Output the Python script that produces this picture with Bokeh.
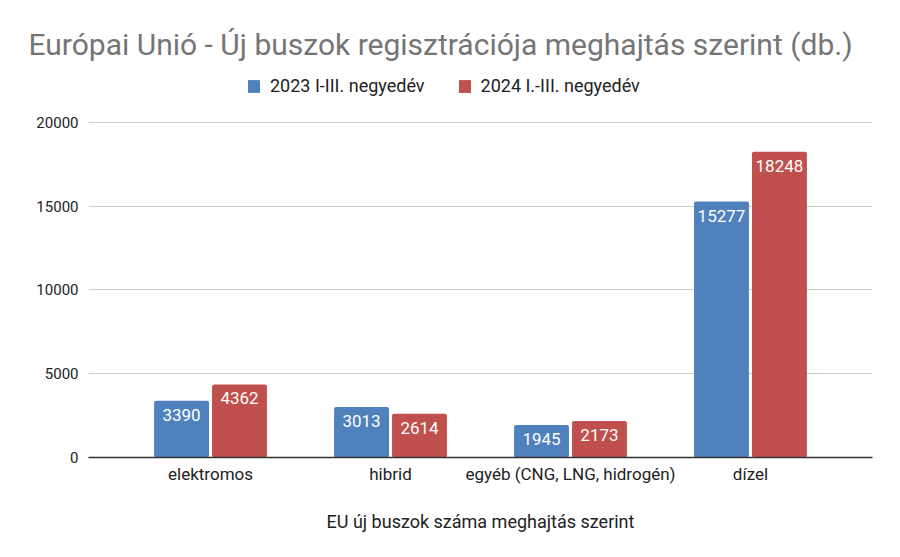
from bokeh.plotting import figure
from bokeh.models import ColumnDataSource, FactorRange, Legend, LegendItem, Title
from bokeh.transform import dodge
from bokeh.core.properties import value
from bokeh.embed import file_html
from bokeh.resources import INLINE

categories = ["elektromos", "hibrid", "egyéb (CNG, LNG, hidrogén)", "dízel"]
series_2023 = [3390, 3013, 1945, 15277]
series_2024 = [4362, 2614, 2173, 18248]
series_names = ["2023 I-III. negyedév", "2024 I.-III. negyedév"]
y_ticks = [0, 5000, 10000, 15000, 20000]

title_text = "Európai Unió - Új buszok regisztrációja meghajtás szerint (db.)"
x_title = "EU új buszok száma meghajtás szerint"

src = ColumnDataSource(dict(
    cat=categories,
    v23=series_2023,
    v24=series_2024,
    t23=[str(v) for v in series_2023],
    t24=[str(v) for v in series_2024],
))

FONT = "Roboto"

p = figure(
    width=884, height=541,
    x_range=FactorRange(factors=categories, range_padding=0.089),
    y_range=(0, 23104),
    output_backend="svg", toolbar_location=None,
    min_border_left=88, min_border_right=12, min_border_top=70, min_border_bottom=84,
)
p.title = Title(text=title_text, text_font=FONT, text_font_size="30px",
                text_color="#757575", text_font_style="normal", offset=-60, standoff=18)

r23 = p.vbar(x=dodge("cat", -0.161, range=p.x_range), top="v23", width=0.305,
             source=src, fill_color="#4f81bd", line_color=None, border_radius=2)
r24 = p.vbar(x=dodge("cat", 0.161, range=p.x_range), top="v24", width=0.305,
             source=src, fill_color="#c0504d", line_color=None, border_radius=2)

for off, col in [(-0.161, "t23"), (0.161, "t24")]:
    ycol = "v23" if col == "t23" else "v24"
    p.text(x=dodge("cat", off, range=p.x_range), y=ycol, text=col, source=src,
           text_color="white", text_font=value(FONT), text_font_size="17px",
           text_align="center", text_baseline="top", y_offset=8)

legend = Legend(items=[LegendItem(label=series_names[0], renderers=[r23]),
                       LegendItem(label=series_names[1], renderers=[r24])],
                orientation="horizontal", location=(158, 361),
                label_text_font=FONT, label_text_font_size="18px", label_text_color="#222222",
                glyph_width=15, glyph_height=16, label_standoff=9, spacing=32,
                border_line_color=None, background_fill_alpha=0, padding=3, margin=0)
p.add_layout(legend, "center")

p.xaxis.axis_label = x_title
p.xaxis.axis_label_text_font = FONT
p.xaxis.axis_label_text_font_size = "18px"
p.xaxis.axis_label_text_font_style = "normal"
p.xaxis.axis_label_text_color = "#222222"
p.xaxis.axis_label_standoff = 24
p.xaxis.major_label_text_font = FONT
p.xaxis.major_label_text_font_size = "17px"
p.xaxis.major_label_text_color = "#222222"
p.xaxis.major_label_standoff = 6
p.xaxis.major_tick_out = 0
p.xaxis.major_tick_in = 0
p.xaxis.major_tick_line_color = None
p.xaxis.minor_tick_line_color = None
p.xaxis.axis_line_color = "#333333"
p.xaxis.axis_line_width = 1.5

p.yaxis.ticker = y_ticks
p.yaxis.major_label_text_font = FONT
p.yaxis.major_label_text_font_size = "15px"
p.yaxis.major_label_text_color = "#222222"
p.yaxis.major_label_standoff = 10
p.yaxis.major_tick_out = 0
p.yaxis.major_tick_in = 0
p.yaxis.major_tick_line_color = None
p.yaxis.minor_tick_line_color = None
p.yaxis.axis_line_color = None

p.xgrid.grid_line_color = None
p.ygrid.grid_line_color = "#cccccc"
p.outline_line_color = None

open("out.html", "w").write(file_html(p, INLINE))
